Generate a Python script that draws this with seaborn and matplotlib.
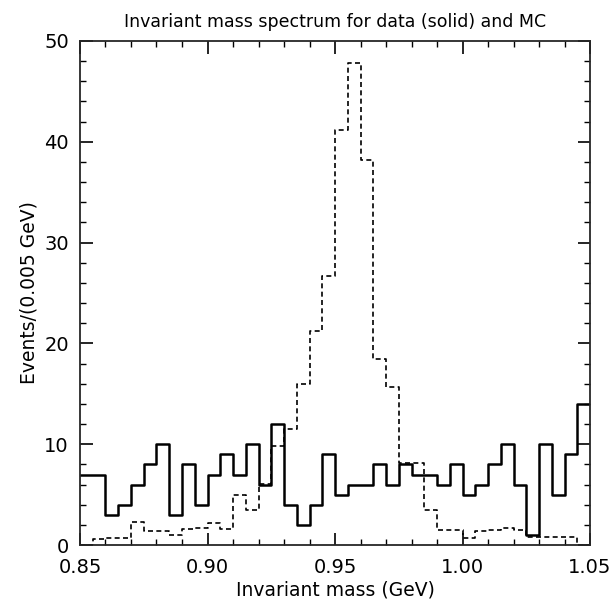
import numpy as np
import pandas as pd
import matplotlib
matplotlib.use("Agg")
import matplotlib.pyplot as plt
import seaborn as sns
from matplotlib.ticker import MultipleLocator, FormatStrFormatter

# bin setup: 40 bins of 0.005 GeV between 0.85 and 1.05
x_lo, x_hi, n_bins = 0.85, 1.05, 40
bin_w = (x_hi - x_lo) / n_bins
centers = x_lo + bin_w * (np.arange(n_bins) + 0.5)

# data (solid) counts per bin
data_counts = [7, 7, 3, 4, 6, 8, 10, 3, 8, 4,
               7, 9, 7, 10, 6, 12, 4, 2, 4, 9,
               5, 6, 6, 8, 6, 8, 7, 7, 6, 8,
               5, 6, 8, 10, 6, 1, 10, 5, 9, 14]

# MC (dashed) counts per bin
mc_counts = [0.0, 0.6, 0.7, 0.7, 2.3, 1.4, 1.4, 1.0, 1.55, 1.7,
             2.15, 1.6, 5.0, 3.5, 6.1, 9.8, 11.5, 16.0, 21.2, 26.7,
             41.2, 47.8, 38.2, 18.5, 15.7, 8.1, 8.1, 3.5, 1.5, 1.5,
             0.7, 1.4, 1.5, 1.7, 1.5, 0.8, 0.8, 0.8, 0.8, 0.0]

df = pd.DataFrame({"mass": centers, "data": data_counts, "mc": mc_counts})

sns.set_style("ticks")
plt.rcParams["font.family"] = ["DejaVu Sans"]
plt.rcParams["axes.linewidth"] = 1.3
plt.rcParams["text.color"] = "black"
plt.rcParams["axes.labelcolor"] = "black"
plt.rcParams["xtick.labelcolor"] = "black"
plt.rcParams["ytick.labelcolor"] = "black"

fig = plt.figure(figsize=(6.13, 6.07), dpi=100)
ax = fig.add_axes([0.1305, 0.102, 0.832, 0.8305])

# MC histogram (dashed)
sns.histplot(data=df, x="mass", weights="mc", bins=n_bins, binrange=(x_lo, x_hi),
             element="step", fill=False, color="black", linewidth=1.2,
             linestyle=(0, (3, 2)), ax=ax)
# data histogram (solid)
sns.histplot(data=df, x="mass", weights="data", bins=n_bins, binrange=(x_lo, x_hi),
             element="step", fill=False, color="black", linewidth=1.8, ax=ax)

ax.set_xlim(x_lo, x_hi)
ax.set_ylim(0, 50)
ax.xaxis.set_major_locator(MultipleLocator(0.05))
ax.xaxis.set_minor_locator(MultipleLocator(0.01))
ax.yaxis.set_major_locator(MultipleLocator(10))
ax.yaxis.set_minor_locator(MultipleLocator(2))
ax.xaxis.set_major_formatter(FormatStrFormatter("%.2f"))
ax.tick_params(which="both", direction="in", top=True, right=True,
               labelsize=14, color="black")
ax.tick_params(axis="x", pad=9)
ax.tick_params(axis="y", pad=8)
ax.tick_params(which="major", length=9, width=1.2)
ax.tick_params(which="minor", length=4.5, width=1.0)

ax.set_title("Invariant mass spectrum for data (solid) and MC", fontsize=12.5, pad=10)
ax.set_xlabel("Invariant mass (GeV)", fontsize=13.5, labelpad=3)
ax.set_ylabel("Events/(0.005 GeV)", fontsize=13.5, labelpad=4)

fig.savefig("out.png", dpi=100)
